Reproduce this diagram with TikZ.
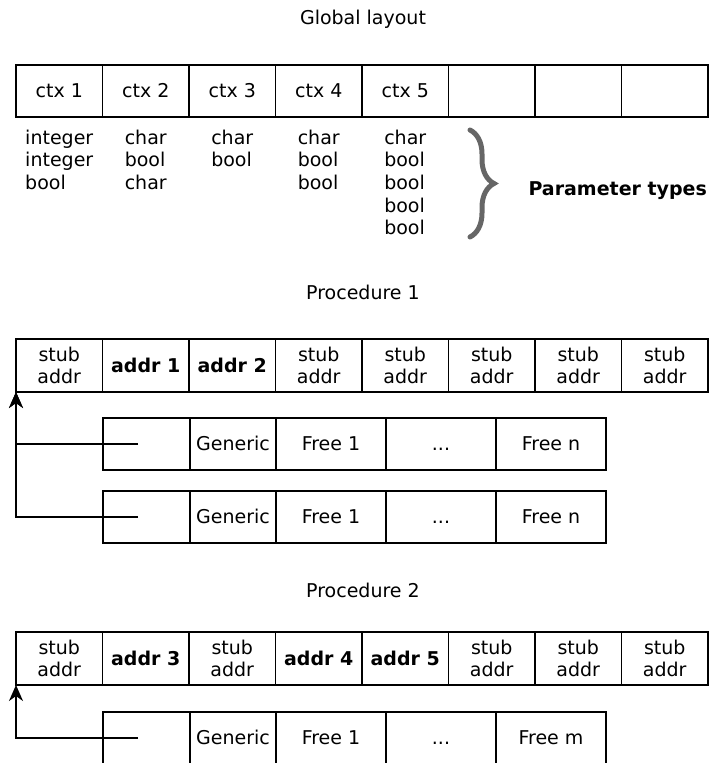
\documentclass[tikz,border=0pt]{standalone}
\usepackage{fontspec}
\setmainfont{DejaVu Sans}
\usetikzlibrary{arrows.meta,decorations.pathreplacing,calc}
\definecolor{bracegray}{RGB}{102,102,102}
\begin{document}
\begin{tikzpicture}[x=1pt,y=-1pt,
  every node/.style={font=\fontsize{19}{22.6}\selectfont},
  cell/.style={draw, line width=1.5pt, inner sep=0pt, outer sep=0pt,
               minimum height=52pt, align=center},
  wcell/.style={cell, minimum width=86.5pt},
  oneline/.style={text height=14pt, text depth=0.2pt},
  plist/.style={align=left, inner sep=0pt, anchor=north},
  title/.style={anchor=base},
  conn/.style={line width=1.5pt, -{Stealth[length=16pt,width=14pt,inset=5pt]}},
  bracestyle/.style={draw=bracegray, line width=5pt, line cap=round,
                     decorate, decoration={brace, amplitude=24pt}}]
\clip (0,0) rectangle (716,763);

% ---- Global layout ----
\node[title] (tg) at (363,24.5) {Global layout};
\foreach \t [count=\i] in {ctx 1,ctx 2,ctx 3,ctx 4,ctx 5,{},{},{}}
  \node[wcell, oneline] (g\i) at ({16+86.5*(\i-0.5)},91) {\t};

\node[plist] (l1) at ($(g1.south)+(0,12.6)$) {integer\\integer\\bool};
\node[plist] (l2) at ($(g2.south)+(0,12.6)$) {char\\bool\\char};
\node[plist] (l3) at ($(g3.south)+(0,12.6)$) {char\\bool};
\node[plist] (l4) at ($(g4.south)+(0,12.6)$) {char\\bool\\bool};
\node[plist] (l5) at ($(g5.south)+(0,12.6)$) {char\\bool\\bool\\bool\\bool};

\draw[bracestyle] (470,130) -- (470,237);
\node[anchor=base west, font=\fontsize{19}{22.6}\selectfont\bfseries] (pt) at (525,195) {Parameter types};

% ---- Procedure 1 ----
\node[title] (tp1) at (363,299.5) {Procedure 1};
\foreach \t [count=\i] in {{stub\\addr},{\textbf{addr 1}},{\textbf{addr 2}},{stub\\addr},{stub\\addr},{stub\\addr},{stub\\addr},{stub\\addr}}
  \node[wcell, minimum height=53pt] (p\i) at ({16+86.5*(\i-0.5)},365.5) {\t};

\node[cell, oneline, minimum width=87pt]  (s1a) at (146.5,444) {};
\node[cell, oneline, minimum width=86pt]  (s1b) at (233,444) {Generic};
\node[cell, oneline, minimum width=110pt] (s1c) at (331,444) {Free 1};
\node[cell, oneline, minimum width=110pt] (s1d) at (441,444) {...};
\node[cell, oneline, minimum width=110pt] (s1e) at (551,444) {Free n};

\node[cell, oneline, minimum width=87pt]  (s2a) at (146.5,517) {};
\node[cell, oneline, minimum width=86pt]  (s2b) at (233,517) {Generic};
\node[cell, oneline, minimum width=110pt] (s2c) at (331,517) {Free 1};
\node[cell, oneline, minimum width=110pt] (s2d) at (441,517) {...};
\node[cell, oneline, minimum width=110pt] (s2e) at (551,517) {Free n};

\coordinate (a1) at (138,444);
\coordinate (a2) at (138,517);
\draw[conn] (a1) -| (p1.south west);
\draw[conn] (a2) -| (p1.south west);

% ---- Procedure 2 ----
\node[title] (tp2) at (363,597.5) {Procedure 2};
\foreach \t [count=\i] in {{stub\\addr},{\textbf{addr 3}},{stub\\addr},{\textbf{addr 4}},{\textbf{addr 5}},{stub\\addr},{stub\\addr},{stub\\addr}}
  \node[wcell, minimum height=53pt] (q\i) at ({16+86.5*(\i-0.5)},658.5) {\t};

\node[cell, oneline, minimum width=87pt]  (s3a) at (146.5,738) {};
\node[cell, oneline, minimum width=86pt]  (s3b) at (233,738) {Generic};
\node[cell, oneline, minimum width=110pt] (s3c) at (331,738) {Free 1};
\node[cell, oneline, minimum width=110pt] (s3d) at (441,738) {...};
\node[cell, oneline, minimum width=110pt] (s3e) at (551,738) {Free m};

\coordinate (a3) at (138,738);
\draw[conn] (a3) -| (q1.south west);
\end{tikzpicture}
\end{document}
